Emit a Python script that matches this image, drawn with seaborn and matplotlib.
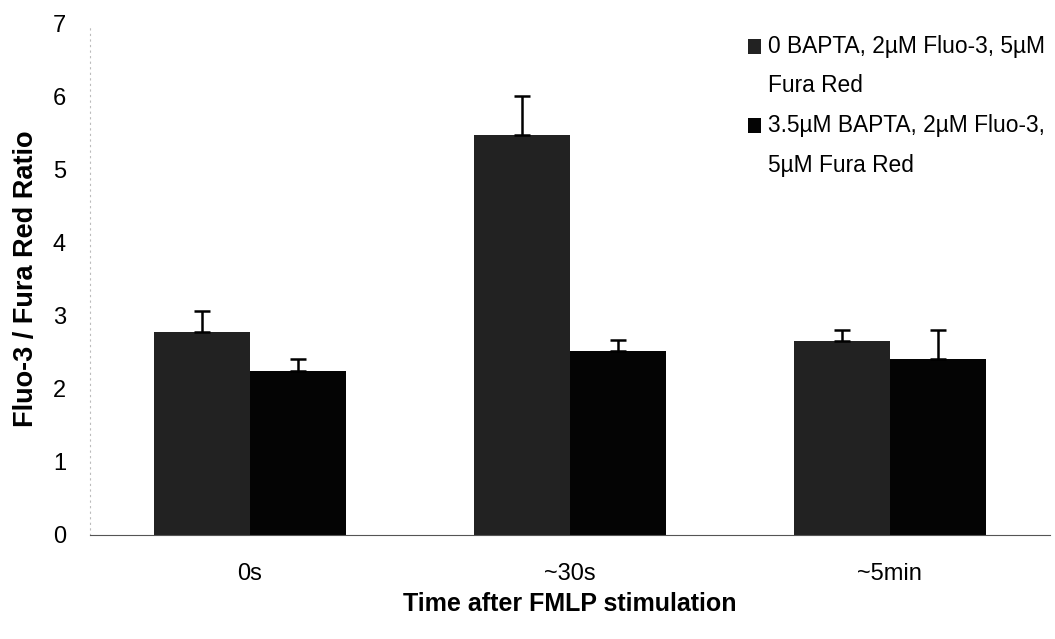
import matplotlib
matplotlib.use("Agg")
import matplotlib.pyplot as plt
import matplotlib.patches as mpatches
from matplotlib.legend_handler import HandlerPatch
import seaborn as sns
import pandas as pd
import numpy as np
from matplotlib.container import BarContainer

categories = ["0s", "~30s", "~5min"]
series_names = ["0 BAPTA, 2µM Fluo-3, 5µM\nFura Red",
                "3.5µM BAPTA, 2µM Fluo-3,\n5µM Fura Red"]
series1_values = [2.78, 5.48, 2.65]
series2_values = [2.25, 2.52, 2.41]
series1_err = [0.29, 0.53, 0.16]
series2_err = [0.16, 0.15, 0.40]
colors = ["#222222", "#040404"]

sns.set_theme(style="white")
plt.rcParams['font.family'] = ['Liberation Sans', 'DejaVu Sans']
plt.rcParams['text.color'] = 'black'
plt.rcParams['axes.labelcolor'] = 'black'
plt.rcParams['xtick.color'] = 'black'
plt.rcParams['ytick.color'] = 'black'

df = pd.DataFrame({
    "cat": categories * 2,
    "series": [series_names[0]] * 3 + [series_names[1]] * 3,
    "val": series1_values + series2_values,
})

fig = plt.figure(figsize=(10.55, 6.39), dpi=100)
ax = fig.add_axes([0.085, 0.163, 0.91, 0.80])
sns.barplot(data=df, x="cat", y="val", hue="series", palette=colors,
            width=0.6, errorbar=None, ax=ax, saturation=1, linewidth=0)

errs = [series1_err, series2_err]
bar_containers = [c for c in ax.containers if isinstance(c, BarContainer)]
for ci, cont in enumerate(bar_containers):
    for j, p in enumerate(cont.patches):
        xc = p.get_x() + p.get_width() / 2
        h = p.get_height()
        ax.errorbar(xc, h, yerr=[[0], [errs[ci][j]]], fmt="none",
                    ecolor="black", elinewidth=1.8, capsize=5.5, capthick=1.8)

ax.set_ylim(0, 7)
ax.set_xlim(-0.5, 2.5)
ax.set_yticks(range(0, 8))
ax.tick_params(axis="both", labelsize=17, length=0)
ax.tick_params(axis="y", pad=17)
ax.tick_params(axis="x", pad=20)
ax.set_xlabel("Time after FMLP stimulation", fontsize=18, fontweight="bold", labelpad=5)
ax.set_ylabel("Fluo-3 / Fura Red Ratio", fontsize=19.5, fontweight="bold")
ax.yaxis.set_label_coords(-0.053, 0.5)

for s in ["top", "right"]:
    ax.spines[s].set_visible(False)
ax.spines["left"].set_color("#bbbbbb")
ax.spines["left"].set_linestyle((0, (1, 4)))
ax.spines["left"].set_linewidth(0.8)
ax.spines["bottom"].set_color("#555555")
ax.spines["bottom"].set_linestyle((0, (3, 1)))
ax.spines["bottom"].set_linewidth(0.8)


def top_square(legend, orig_handle, xdescent, ydescent, width, height, fontsize):
    shift = 15.0
    return mpatches.Rectangle((-xdescent, -ydescent + shift), width, height)


handles, labels = ax.get_legend_handles_labels()
leg = ax.legend(handles, labels, loc="upper right", bbox_to_anchor=(1.007, 1.0),
                frameon=False, fontsize=16.4, handlelength=0.6, handleheight=0.6,
                handletextpad=0.3, labelspacing=0.75, borderaxespad=0.1,
                handler_map={mpatches.Rectangle: HandlerPatch(patch_func=top_square)})
for t in leg.get_texts():
    t.set_linespacing(1.9)

fig.savefig("out.png", dpi=100)
